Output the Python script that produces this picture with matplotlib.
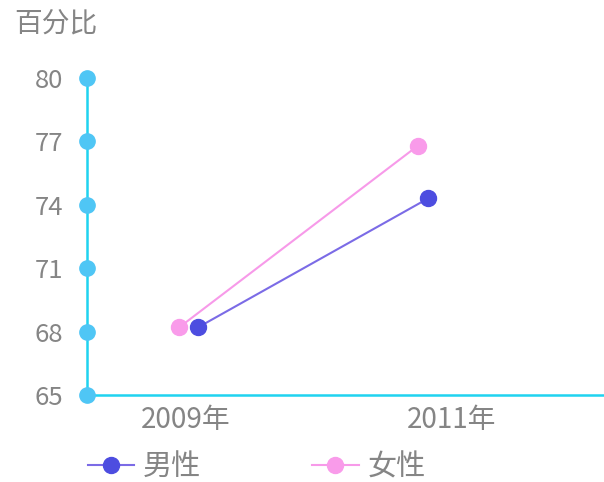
import matplotlib
matplotlib.use("Agg")
import matplotlib.pyplot as plt

plt.rcParams['font.family'] = ['Noto Sans CJK SC', 'DejaVu Sans']

years = ["2009年", "2011年"]
male = [68.2, 74.3]
female = [68.2, 76.8]
# small horizontal jitter of the points as seen in the picture (category units)
male_shift = [0.045, -0.087]
female_shift = [-0.026, -0.125]
yticks = [65, 68, 71, 74, 77, 80]

text_c = "#858585"
axis_c = "#1fd3f0"
tick_c = "#4fc6f5"
male_line, male_dot = "#7b6be6", "#4d4de0"
fem_line, fem_dot = "#f79ae9", "#f99bea"

fig = plt.figure(figsize=(6.04, 4.82), dpi=100)
ax = fig.add_axes([87/604, 87/482, 517/604, (395-78)/482])

ax.set_xlim(-0.374, 1.577)
ax.set_ylim(65, 80)

xs = range(len(years))
mx = [i + s for i, s in zip(xs, male_shift)]
fx = [i + s for i, s in zip(xs, female_shift)]
hm, = ax.plot(mx, male, color=male_line, lw=1.5, marker="o", ms=11.5,
              mfc=male_dot, mec=male_dot, label="男性", clip_on=False, zorder=3)
hf, = ax.plot(fx, female, color=fem_line, lw=1.5, marker="o", ms=11.5,
              mfc=fem_dot, mec=fem_dot, label="女性", clip_on=False, zorder=3)

for s in ["top", "right"]:
    ax.spines[s].set_visible(False)
for s in ["left", "bottom"]:
    ax.spines[s].set_color(axis_c)
    ax.spines[s].set_linewidth(1.8)

ax.plot([-0.374] * len(yticks), yticks, "o", color=tick_c, ms=11,
        clip_on=False, zorder=4)

ax.set_yticks(yticks)
ax.set_yticklabels([str(v) for v in yticks])
ax.set_xticks(list(xs))
ax.set_xticklabels(years)
ax.tick_params(axis="y", length=0, pad=17, labelsize=18.5, labelcolor=text_c)
ax.tick_params(axis="x", length=0, pad=7, labelsize=20, labelcolor=text_c)

fig.text(14/604, 1 - 23/482, "百分比", fontsize=20, color=text_c, va="center")

fig.legend(handles=[hm, hf], loc="center left", bbox_to_anchor=(73/604, 1 - 467/482),
           ncol=2, frameon=False, fontsize=21, labelcolor=text_c,
           handlelength=1.6, handletextpad=0.3, columnspacing=3.8,
           markerscale=1.0, borderpad=0.0)

fig.savefig("out.png", dpi=100)
